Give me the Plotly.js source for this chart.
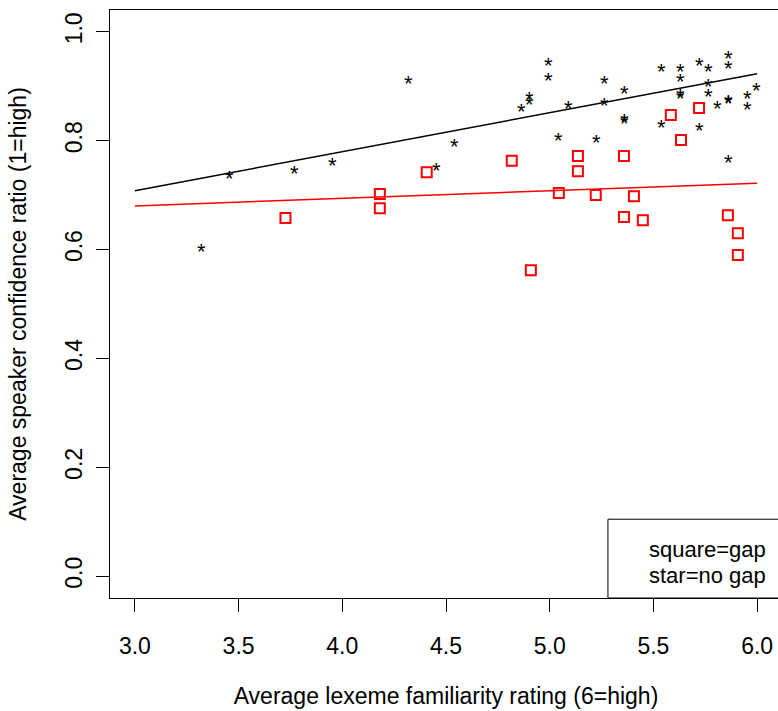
<!DOCTYPE html>
<html>
<head>
<meta charset="utf-8">
<script src="https://cdn.plot.ly/plotly-3.0.1.min.js"></script>
<style>
html, body { margin: 0; padding: 0; overflow: hidden; background: #ffffff; }
#chart { width: 782px; height: 711px; }
</style>
</head>
<body>
<div id="chart"></div>
<script>
// ---- data ----
// "star = no gap" items
const noGapX = [3.321, 3.456, 3.770, 3.953, 4.320, 4.455, 4.542, 4.865, 4.904, 4.904,
                4.996, 4.996, 5.044, 5.093, 5.227, 5.266, 5.266, 5.362, 5.362, 5.362,
                5.541, 5.541, 5.633, 5.633, 5.633, 5.633, 5.724, 5.724, 5.768, 5.768,
                5.768, 5.811, 5.864, 5.864, 5.864, 5.864, 5.864, 5.956, 5.956, 5.999];
const noGapY = [0.606, 0.739, 0.748, 0.763, 0.914, 0.755, 0.799, 0.862, 0.884, 0.875,
                0.948, 0.919, 0.810, 0.869, 0.805, 0.914, 0.873, 0.895, 0.845, 0.840,
                0.937, 0.834, 0.937, 0.917, 0.890, 0.886, 0.948, 0.827, 0.937, 0.908,
                0.891, 0.869, 0.960, 0.941, 0.880, 0.877, 0.770, 0.886, 0.867, 0.901];
// "square = gap" items
const gapX = [3.726, 4.181, 4.181, 4.407, 4.817, 4.909, 5.044, 5.136, 5.136, 5.222,
              5.358, 5.358, 5.406, 5.449, 5.584, 5.633, 5.720, 5.859, 5.907, 5.907];
const gapY = [0.658, 0.702, 0.676, 0.742, 0.763, 0.562, 0.704, 0.772, 0.744, 0.700,
              0.772, 0.660, 0.698, 0.654, 0.847, 0.801, 0.860, 0.663, 0.630, 0.590];
// fitted lines (end points)
const fitX = [3.0, 6.0];
const fitNoGapY = [0.708, 0.923];
const fitGapY = [0.680, 0.722];
// ticks
const xTicks = [3.0, 3.5, 4.0, 4.5, 5.0, 5.5, 6.0];
const yTicks = [0.0, 0.2, 0.4, 0.6, 0.8, 1.0];
const legendLines = ["square=gap", "star=no gap"];

const FONT = "Liberation Sans, Arial, Helvetica, sans-serif";

const traces = [
  { x: fitX, y: fitNoGapY, type: "scatter", mode: "lines",
    line: { color: "#000000", width: 1.5 }, hoverinfo: "skip", showlegend: false },
  { x: fitX, y: fitGapY, type: "scatter", mode: "lines",
    line: { color: "#ff0000", width: 1.5 }, hoverinfo: "skip", showlegend: false },
  { x: gapX, y: gapY, type: "scatter", mode: "markers", name: "gap",
    marker: { symbol: "square-open", size: 10, color: "#ff0000", line: { width: 2, color: "#ff0000" } },
    showlegend: false },
  // star points: invisible anchors; the "*" glyphs are drawn as annotations below
  { x: noGapX, y: noGapY, type: "scatter", mode: "markers", name: "no gap",
    marker: { size: 8, color: "rgba(0,0,0,0)" }, showlegend: false }
];

const starAnnotations = noGapX.map((x, i) => ({
  x: x, y: noGapY[i], xref: "x", yref: "y", text: "*", showarrow: false,
  xanchor: "center", yanchor: "middle", yshift: -5,
  font: { family: FONT, size: 22, color: "#000000" }
}));

const legendAnnotations = legendLines.map((t, i) => ({
  x: 0.799, y: [0.083, 0.039][i], xref: "paper", yref: "paper", text: t,
  showarrow: false, xanchor: "left", yanchor: "middle",
  font: { family: FONT, size: 22, color: "#000000" }
}));

const layout = {
  width: 782, height: 711,
  margin: { l: 110, r: 0, t: 10, b: 113 },
  paper_bgcolor: "#ffffff", plot_bgcolor: "#ffffff",
  font: { family: FONT, size: 22, color: "#000000" },
  showlegend: false,
  xaxis: {
    range: [2.88, 6.12], tickvals: xTicks, ticktext: xTicks.map(v => v.toFixed(1)),
    ticks: "outside", ticklen: 13, tickwidth: 1, tickcolor: "#000000",
    ticklabelstandoff: 14,
    showline: true, linecolor: "#000000", linewidth: 1, mirror: true,
    showgrid: false, zeroline: false,
    tickfont: { family: FONT, size: 23, color: "#000000" },
    title: { text: "Average lexeme familiarity rating (6=high)", standoff: 30,
             font: { family: FONT, size: 23, color: "#000000" } },
    automargin: false
  },
  yaxis: {
    range: [-0.04, 1.04], tickvals: yTicks, ticktext: yTicks.map(v => v.toFixed(1)),
    ticks: "outside", ticklen: 13, tickwidth: 1, tickcolor: "#000000", tickangle: -90,
    ticklabelstandoff: 5,
    showline: true, linecolor: "#000000", linewidth: 1, mirror: true,
    showgrid: false, zeroline: false,
    tickfont: { family: FONT, size: 23, color: "#000000" },
    title: { text: "Average speaker confidence ratio (1=high)", standoff: 27,
             font: { family: FONT, size: 23, color: "#000000" } },
    automargin: false
  },
  shapes: [
    { type: "rect", xref: "paper", yref: "paper", x0: 0.741, x1: 1.02, y0: 0, y1: 0.134,
      line: { color: "#000000", width: 1 }, fillcolor: "rgba(0,0,0,0)" }
  ],
  annotations: starAnnotations.concat(legendAnnotations)
};

Plotly.newPlot("chart", traces, layout, { displayModeBar: false, staticPlot: true });
</script>
</body>
</html>
